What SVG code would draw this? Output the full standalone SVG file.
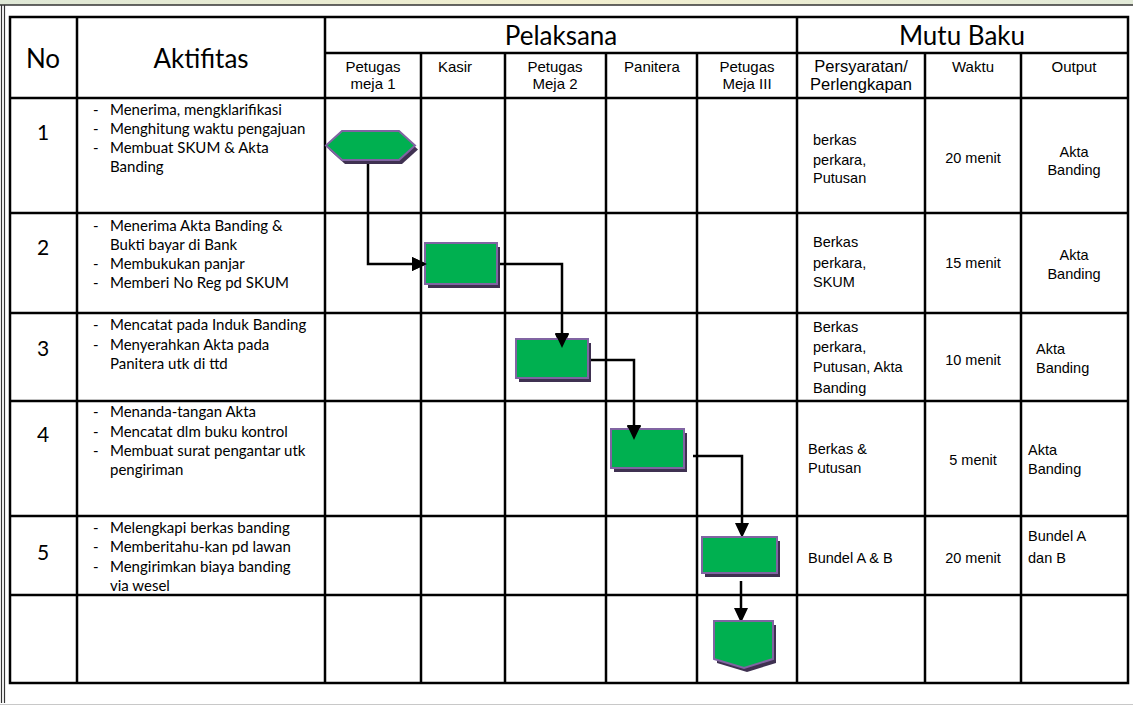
<svg xmlns="http://www.w3.org/2000/svg" width="1133" height="705" viewBox="0 0 1133 705">
<style>
.grid{stroke:#000;stroke-width:2.5;fill:none}
.h1{font-family:Lato,"Open Sans",sans-serif;font-size:26px;fill:#000;text-anchor:middle}
.num{font-family:Lato,"Open Sans",sans-serif;font-size:21px;fill:#000;text-anchor:middle}
.act{font-family:Lato,"Open Sans",sans-serif;font-size:15px;fill:#000}
.sub{font-family:"Liberation Sans",Arial,sans-serif;font-size:15px;fill:#000;text-anchor:middle}
.wide{font-size:16.5px}
.cell{font-family:"Liberation Sans",Arial,sans-serif;font-size:14.5px;fill:#000}
.mid{text-anchor:middle}
.shape{fill:#00B050;stroke:#8064A2;stroke-width:2}
.shadow{fill:#3F3151}
.conn{stroke:#000;stroke-width:2.5;fill:none;marker-end:url(#arr)}
</style>
<defs>
<linearGradient id="top" x1="0" y1="0" x2="1" y2="0">
<stop offset="0" stop-color="#dfe8d6"/>
<stop offset="0.5" stop-color="#f2efcf"/>
<stop offset="1" stop-color="#e2ead8"/>
</linearGradient>
<marker id="arr" markerUnits="userSpaceOnUse" markerWidth="16" markerHeight="16" refX="11" refY="7" orient="auto">
<path d="M0,0 L15,7 L0,14 z" fill="#000"/>
</marker>
</defs>
<rect x="0" y="0" width="1133" height="705" fill="#fff"/>
<rect x="0" y="0" width="1133" height="5" fill="url(#top)"/>
<g id="frame" stroke="#333" stroke-width="1.2" fill="none">
<line x1="0" y1="5" x2="1133" y2="5" stroke-width="1.6"/>
<line x1="1.5" y1="5" x2="1.5" y2="703"/>
<line x1="4.5" y1="5" x2="4.5" y2="703"/>
<line x1="0" y1="704.5" x2="1133" y2="704.5" stroke="#c8c8c8"/>
</g>
<g id="table" class="grid">
<rect x="10" y="17" width="1118" height="666"/>
<line x1="325" y1="53" x2="1128" y2="53"/>
<line x1="10" y1="98" x2="1128" y2="98"/>
<line x1="10" y1="213" x2="1128" y2="213"/>
<line x1="10" y1="313" x2="1128" y2="313"/>
<line x1="10" y1="401" x2="1128" y2="401"/>
<line x1="10" y1="516" x2="1128" y2="516"/>
<line x1="10" y1="595" x2="1128" y2="595"/>
<line x1="77" y1="17" x2="77" y2="683"/>
<line x1="325" y1="17" x2="325" y2="683"/>
<line x1="797" y1="17" x2="797" y2="683"/>
<line x1="421" y1="53" x2="421" y2="683"/>
<line x1="505" y1="53" x2="505" y2="683"/>
<line x1="606" y1="53" x2="606" y2="683"/>
<line x1="697" y1="53" x2="697" y2="683"/>
<line x1="925" y1="53" x2="925" y2="683"/>
<line x1="1021" y1="53" x2="1021" y2="683"/>
</g>
<g id="header">
<text class="h1" x="43" y="68">No</text>
<text class="h1" x="201" y="68">Aktifitas</text>
<text class="h1" x="561" y="45">Pelaksana</text>
<text class="h1" x="962" y="45">Mutu Baku</text>
<text class="sub" x="373" y="72">Petugas</text>
<text class="sub" x="373" y="89">meja 1</text>
<text class="sub" x="455" y="72">Kasir</text>
<text class="sub" x="555" y="72">Petugas</text>
<text class="sub" x="555" y="89">Meja 2</text>
<text class="sub" x="652" y="72">Panitera</text>
<text class="sub" x="747" y="72">Petugas</text>
<text class="sub" x="747" y="89">Meja III</text>
<text class="sub wide" x="861" y="72">Persyaratan/</text>
<text class="sub wide" x="861" y="90">Perlengkapan</text>
<text class="sub" x="973" y="72">Waktu</text>
<text class="sub" x="1074" y="72">Output</text>
</g>
<g id="row1">
<text class="num" x="43" y="140">1</text>
<text class="act" x="93" y="115">-</text><text class="act" x="110" y="115">Menerima, mengklarifikasi</text>
<text class="act" x="93" y="134">-</text><text class="act" x="110" y="134">Menghitung waktu pengajuan</text>
<text class="act" x="93" y="153">-</text><text class="act" x="110" y="153">Membuat SKUM &amp; Akta</text>
<text class="act" x="110" y="172">Banding</text>
<text class="cell" x="813" y="145">berkas</text>
<text class="cell" x="813" y="165">perkara,</text>
<text class="cell" x="813" y="183">Putusan</text>
<text class="cell mid" x="973" y="163">20 menit</text>
<text class="cell mid" x="1074" y="157">Akta</text>
<text class="cell mid" x="1074" y="175">Banding</text>
</g>
<g id="row2">
<text class="num" x="43" y="255">2</text>
<text class="act" x="93" y="231">-</text><text class="act" x="110" y="231">Menerima Akta Banding &amp;</text>
<text class="act" x="110" y="250">Bukti bayar di Bank</text>
<text class="act" x="93" y="269">-</text><text class="act" x="110" y="269">Membukukan panjar</text>
<text class="act" x="93" y="288">-</text><text class="act" x="110" y="288">Memberi No Reg pd SKUM</text>
<text class="cell" x="813" y="247">Berkas</text>
<text class="cell" x="813" y="268">perkara,</text>
<text class="cell" x="813" y="287">SKUM</text>
<text class="cell mid" x="973" y="268">15 menit</text>
<text class="cell mid" x="1074" y="260">Akta</text>
<text class="cell mid" x="1074" y="279">Banding</text>
</g>
<g id="row3">
<text class="num" x="43" y="356">3</text>
<text class="act" x="93" y="330">-</text><text class="act" x="110" y="330">Mencatat pada Induk Banding</text>
<text class="act" x="93" y="350">-</text><text class="act" x="110" y="350">Menyerahkan Akta pada</text>
<text class="act" x="110" y="369">Panitera utk di ttd</text>
<text class="cell" x="813" y="332">Berkas</text>
<text class="cell" x="813" y="352">perkara,</text>
<text class="cell" x="813" y="372">Putusan, Akta</text>
<text class="cell" x="813" y="393">Banding</text>
<text class="cell mid" x="973" y="365">10 menit</text>
<text class="cell" x="1036" y="354">Akta</text>
<text class="cell" x="1036" y="373">Banding</text>
</g>
<g id="row4">
<text class="num" x="43" y="442">4</text>
<text class="act" x="93" y="417">-</text><text class="act" x="110" y="417">Menanda-tangan Akta</text>
<text class="act" x="93" y="437">-</text><text class="act" x="110" y="437">Mencatat dlm buku kontrol</text>
<text class="act" x="93" y="456">-</text><text class="act" x="110" y="456">Membuat surat pengantar utk</text>
<text class="act" x="110" y="475">pengiriman</text>
<text class="cell" x="808" y="454">Berkas &amp;</text>
<text class="cell" x="808" y="473">Putusan</text>
<text class="cell mid" x="973" y="465">5 menit</text>
<text class="cell" x="1028" y="455">Akta</text>
<text class="cell" x="1028" y="474">Banding</text>
</g>
<g id="row5">
<text class="num" x="43" y="560">5</text>
<text class="act" x="93" y="533">-</text><text class="act" x="110" y="533">Melengkapi berkas banding</text>
<text class="act" x="93" y="552">-</text><text class="act" x="110" y="552">Memberitahu-kan pd lawan</text>
<text class="act" x="93" y="572">-</text><text class="act" x="110" y="572">Mengirimkan biaya banding</text>
<text class="act" x="110" y="591">via wesel</text>
<text class="cell" x="808" y="563">Bundel A &amp; B</text>
<text class="cell mid" x="973" y="563">20 menit</text>
<text class="cell" x="1028" y="541">Bundel A</text>
<text class="cell" x="1028" y="563">dan B</text>
</g>
<g id="connectors">
<path class="conn" d="M368,160 V264 H423"/>
<path class="conn" d="M497,264 H562 V345"/>
<path class="conn" d="M588,360 H634 V437"/>
<path class="conn" d="M693,456 H742 V534"/>
<path class="conn" d="M741,581 V619"/>
</g>
<g id="node-start">
<polygon class="shadow" points="329,149.5 345,135 402,135 418,149.5 402,164 345,164"/>
<polygon class="shape" points="326,145.5 342,131 399,131 415,145.5 399,160 342,160"/>
</g>
<g id="node-kasir">
<rect class="shadow" x="428" y="247" width="72" height="41"/>
<rect class="shape" x="425" y="243" width="72" height="41"/>
</g>
<g id="node-meja2">
<rect class="shadow" x="519" y="343" width="72" height="39"/>
<rect class="shape" x="516" y="339" width="72" height="39"/>
</g>
<g id="node-panitera">
<rect class="shadow" x="614" y="433" width="73" height="39"/>
<rect class="shape" x="611" y="429" width="73" height="39"/>
</g>
<g id="node-meja3">
<rect class="shadow" x="705" y="541" width="75" height="36"/>
<rect class="shape" x="702" y="537" width="75" height="36"/>
</g>
<g id="node-end">
<polygon class="shadow" points="717,625 776,625 776,663 747,672 717,663"/>
<polygon class="shape" points="714,621 773,621 773,659 744,668 714,659"/>
</g>
<g id="arrowheads-over">
<path d="M412,257 L427,264 L412,271 z" fill="#000"/>
<path d="M555,333 L562,348 L569,333 z" fill="#000"/>
<path d="M627,425 L634,440 L641,425 z" fill="#000"/>
</g>
</svg>
